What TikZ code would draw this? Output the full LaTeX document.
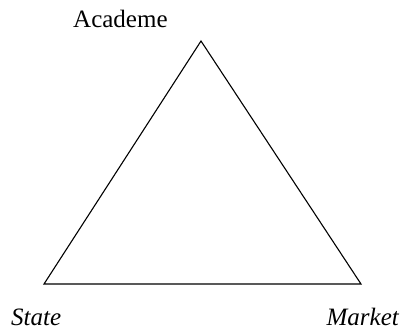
\documentclass[tikz,border=0pt]{standalone}
\usepackage{fontspec}
\setmainfont{Liberation Serif}
\usepackage{tikz}
\usetikzlibrary{calc}

\begin{document}
\begin{tikzpicture}[x=1pt, y=-1pt,
        corner/.style={font=\fontsize{25}{28}\selectfont, inner sep=0pt},
        side/.style={line width=1.1pt, line join=miter}]
        % Frame (fixes the page size)
        \useasboundingbox (0,0) rectangle (404,333);
        % Corners of the triangle
        \coordinate (top) at (201,41);
        \coordinate (left) at (44,284);
        \coordinate (right) at (361,284);
        % Triangle
        \draw[side] (top) -- (left) -- (right) -- cycle;
        % Labels
        \node[corner, anchor=base west] (academe) at (73,27) {Academe};
        \node[corner, anchor=base west, font=\fontsize{25}{28}\selectfont\itshape] (state) at (11,325) {State};
        \node[corner, anchor=base east, font=\fontsize{25}{28}\selectfont\itshape] (market) at (399,325) {Market};
    \end{tikzpicture}
\end{document}
